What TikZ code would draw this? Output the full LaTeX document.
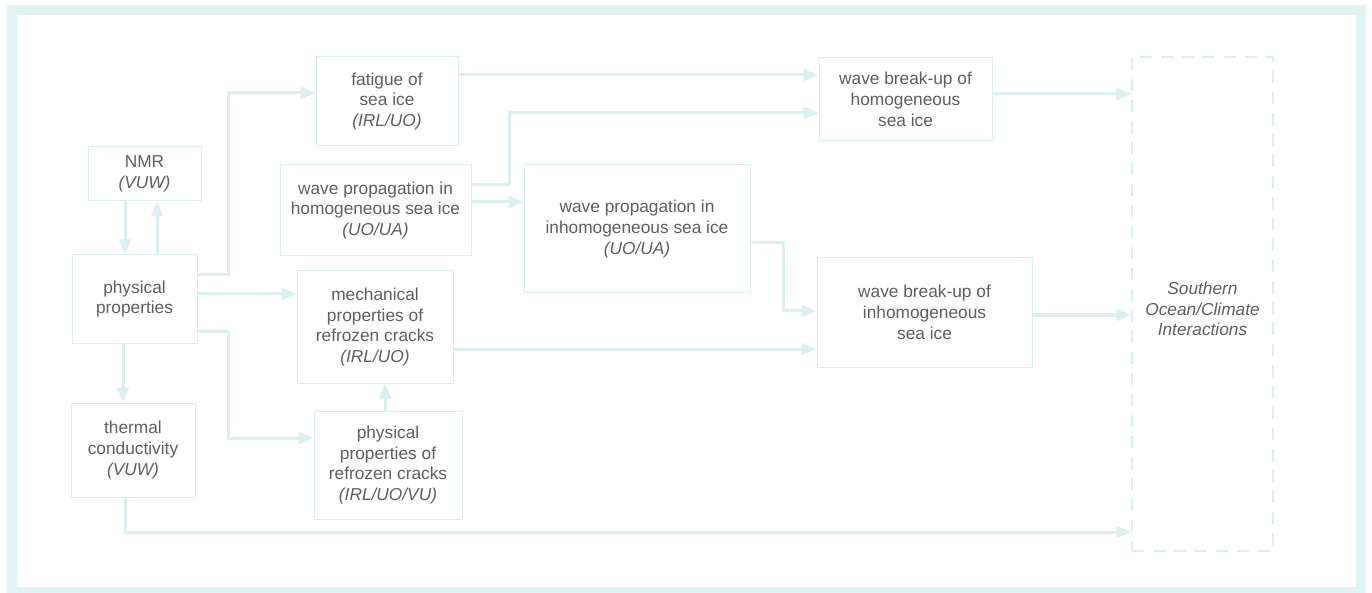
\documentclass[tikz,border=0pt]{standalone}
\usepackage{fontspec}
\setmainfont{Liberation Sans}
\usetikzlibrary{arrows.meta}
\definecolor{framec}{HTML}{E0F2F2}
\definecolor{linec}{HTML}{DCEFEF}
\definecolor{textc}{HTML}{5E5E5E}
\tikzset{
  box/.style={draw=linec, line width=1pt, inner sep=0pt, align=center, text=textc,
    font=\fontsize{17.3}{20.8}\selectfont},
  dbox/.style={box, line width=1.5pt, dash pattern=on 12pt off 9pt},
  arr/.style={draw=linec, line width=3pt, -{Triangle[length=15pt,width=12pt]}},
}
\begin{document}
\begin{tikzpicture}[x=1pt,y=-1pt]
\useasboundingbox (0,0) rectangle (1372,593);
\draw[framec, line width=10pt] (12,10) rectangle (1361,592);

\node[box, minimum width=113pt, minimum height=54pt] (nmr) at (144.5,174) {NMR\\\textit{(VUW)}};
\node[box, minimum width=125pt, minimum height=88pt] (pp) at (134.5,299) {physical\\properties};
\node[box, minimum width=124pt, minimum height=94pt] (tc) at (133,450) {thermal\\conductivity\\\textit{(VUW)}};
\node[box, minimum width=142pt, minimum height=89pt] (fat) at (387,101.5) {fatigue of\\sea ice\\\textit{(IRL/UO)}};
\node[box, minimum width=191pt, minimum height=91pt] (wph) at (375.5,210.5) {wave propagation in\\homogeneous sea ice\\\textit{(UO/UA)}};
\node[box, minimum width=156pt, minimum height=112pt] (mech) at (375,327) {mechanical\\properties of\\refrozen cracks\\\textit{(IRL/UO)}};
\node[box, minimum width=148pt, minimum height=108pt] (pc) at (388,465) {physical\\properties of\\refrozen cracks\\\textit{(IRL/UO/VU)}};
\node[box, minimum width=226pt, minimum height=128pt] (wpi) at (637,229) {wave propagation in\\inhomogeneous sea ice\\\textit{(UO/UA)}};
\node[box, minimum width=173pt, minimum height=83pt] (wbh) at (905.5,99.5) {wave break-up of\\homogeneous\\sea ice};
\node[box, minimum width=215pt, minimum height=109pt] (wbi) at (924.5,312.5) {wave break-up of\\inhomogeneous\\sea ice};
\node[dbox, minimum width=141pt, minimum height=494pt] (so) at (1202.5,304) {};
\node[text=textc, align=center, font=\fontsize{17.3}{20.8}\selectfont\itshape] (sot) at (1202.5,309) {Southern\\Ocean/Climate\\Interactions};

\draw[arr] ([xshift=-19.5pt]nmr.south) -- ([xshift=-19.5pt]nmr.south |- pp.north);
\draw[arr] ([xshift=12.5pt]nmr.south |- pp.north) -- ([xshift=12.5pt]nmr.south);
\draw[arr] ([xshift=-10pt]tc.north |- pp.south) -- ([xshift=-10pt]tc.north);
\draw[arr] ([yshift=24pt]pp.east) -- ++(31,0) |- ([yshift=8.5pt]fat.west);
\draw[arr] ([yshift=5pt]pp.east) -- ([yshift=5pt]pp.east -| mech.west);
\draw[arr] ([yshift=-32pt]pp.east) -- ++(31,0) |- ([yshift=27pt]pc.west);
\draw[arr] ([xshift=-3pt]pc.north) -- ([xshift=-3pt]pc.north |- mech.south);
\draw[arr] ([yshift=26.5pt]fat.east) -- ([yshift=26.5pt]fat.east -| wbh.west);
\draw[arr] ([yshift=25.5pt]wph.east) -- ++(38,0) |- ([yshift=-13.5pt]wbh.west);
\draw[arr] ([yshift=8.5pt]wph.east) -- ([yshift=8.5pt]wph.east -| wpi.west);
\draw[arr] ([yshift=-14pt]wpi.east) -- ++(33,0) |- ([yshift=1.5pt]wbi.west);
\draw[arr] ([yshift=-22pt]mech.east) -- ([yshift=-22pt]mech.east -| wbi.west);
\draw[arr] ([yshift=5.5pt]wbh.east) -- ([yshift=5.5pt]wbh.east -| so.west);
\draw[arr] ([yshift=-2.5pt]wbi.east) -- ([yshift=-2.5pt]wbi.east -| so.west);
\draw[arr] ([xshift=-8pt]tc.south) |- ([yshift=-228pt]so.west);
\end{tikzpicture}
\end{document}
